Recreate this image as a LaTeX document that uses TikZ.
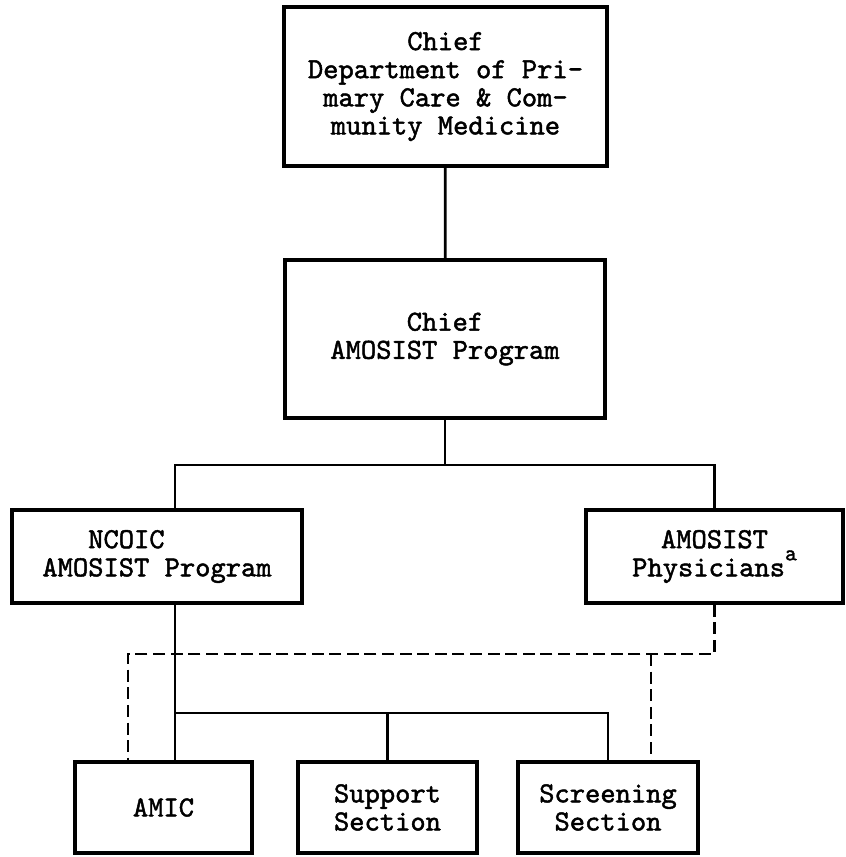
\documentclass[tikz,border=0pt]{standalone}
\usepackage{fontspec}
\usepackage{tikz}
\usetikzlibrary{positioning, calc}
\newfontfamily\typefont{lmmono10-regular.otf}[FakeBold=1.6]

\begin{document}
\begin{tikzpicture}[
    x=0.025cm, y=-0.025cm,
    unit/.style={draw, line width=2.6pt, inner sep=0pt, align=center, font=\typefont\fontsize{20.7}{20}\selectfont},
    reports/.style={line width=2pt},
    advises/.style={line width=2pt, dash pattern=on 0.3cm off 0.14cm}
]
    \useasboundingbox (0,0) rectangle (846,857);

    % Units
    \node[unit, minimum width=8.075cm, minimum height=3.975cm] (chiefdept) at (445.5,86.5) {Chief\\Department of Pri-\\mary Care \& Com-\\munity Medicine};
    \node[unit, minimum width=8cm, minimum height=3.95cm] (chiefprog) at (445,339) {Chief\\AMOSIST Program};
    \node[unit, minimum width=7.25cm, minimum height=2.325cm] (ncoic) at (157,556.5) {\phantom{AMO}NCOIC\phantom{AMOSIST}\\AMOSIST Program};
    \node[unit, minimum width=6.425cm, minimum height=2.325cm] (phys) at (714.5,556.5) {AMOSIST\\Physicians\raisebox{0.55em}{\fontsize{16}{16}\selectfont a}};
    \node[unit, minimum width=4.425cm, minimum height=2.275cm] (amic) at (163.5,807.5) {AMIC};
    \node[unit, minimum width=4.475cm, minimum height=2.275cm] (support) at (387.5,807.5) {Support\\Section};
    \node[unit, minimum width=4.5cm, minimum height=2.275cm] (screening) at (608,807.5) {Screening\\Section};

    % Junctions
    \coordinate (spine) at (175,0);
    \coordinate (topbus) at (0,465);
    \coordinate (lowbus) at (0,713);
    \coordinate (dashbus) at (0,654);
    \coordinate (ldash) at (128,0);
    \coordinate (rdash) at (651,0);

    % Reporting lines
    \draw[reports] (chiefdept) -- (chiefprog);
    \draw[reports] (chiefprog.south) -- (chiefprog.south |- topbus);
    \draw[reports] (ncoic.north -| spine) -- (spine |- topbus) -| (phys.north);
    \draw[reports] (ncoic.south -| spine) -- (amic.north -| spine);
    \draw[reports] (spine |- lowbus) -| (screening.north);
    \draw[reports] (support.north) -- (support.north |- lowbus);

    % Advisory lines
    \draw[advises] (phys.south) -- (phys.south |- dashbus) -| (amic.north -| ldash);
    \draw[advises] (rdash |- dashbus) -- (screening.north -| rdash);
\end{tikzpicture}
\end{document}
